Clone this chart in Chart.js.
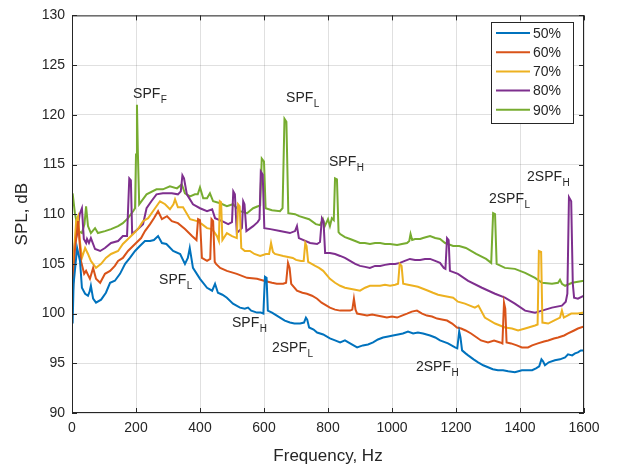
<!DOCTYPE html>
<html>
<head>
<meta charset="utf-8">
<script src="https://cdn.jsdelivr.net/npm/chart.js@4/dist/chart.umd.min.js"></script>
<style>
  html, body { margin: 0; padding: 0; background: #fff; }
  #wrap { width: 618px; height: 470px; }
</style>
</head>
<body>
<div id="wrap"><canvas id="splChart" width="618" height="470"></canvas></div>
<script>
// [frequency Hz, SPL dB]
const s50 = [[2,99.0],[5,103],[9,104.3],[16,106.6],[25,105.3],[31,102.6],[41,102],[50,101.8],[55,102.2],[59,102.8],[66,101.5],[75,101.1],[91,101.4],[106,102.1],[119,103.1],[134,103.3],[150,104],[166,105],[181,105.6],[197,106.3],[212,106.8],[228,107.3],[244,107.3],[256,107.4],[269,107.8],[281,107.1],[295,107.0],[316,106.3],[338,106.0],[353,105.0],[362,105.6],[368,106.6],[373,105.6],[378,104.6],[400,103.5],[422,102.6],[438,102.3],[447,103],[456,102.1],[470,101.9],[484,101.6],[503,101],[525,100.6],[540,100.5],[550,100.6],[560,100.3],[578,100.1],[590,100.1],[598,100.0],[603,103.7],[608,103.6],[612,100.3],[625,100.1],[640,99.8],[650,99.6],[665,99.3],[681,99.1],[695,99.0],[713,99.0],[725,99.1],[731,99.6],[735,99.4],[741,98.6],[755,98.4],[766,98.1],[785,97.9],[806,97.5],[822,97.3],[838,97.1],[853,97.3],[869,97.0],[891,96.6],[909,96.8],[925,96.9],[941,97.1],[956,97.4],[972,97.6],[988,97.7],[1003,97.8],[1019,97.9],[1034,98.0],[1050,98.2],[1066,98.0],[1081,98.1],[1097,98.0],[1119,97.8],[1135,97.6],[1150,97.3],[1175,97.0],[1197,96.6],[1204,96.5],[1210,98.2],[1214,97.6],[1219,96.3],[1230,96.0],[1238,95.8],[1255,95.4],[1269,95.1],[1285,94.8],[1300,94.6],[1315,94.4],[1331,94.3],[1347,94.3],[1363,94.2],[1384,94.1],[1395,94.2],[1406,94.3],[1420,94.3],[1438,94.3],[1450,94.5],[1460,94.7],[1467,95.4],[1472,95.2],[1478,94.8],[1490,95.1],[1509,95.3],[1525,95.4],[1541,95.6],[1550,95.9],[1563,95.8],[1572,96.0],[1581,96.1],[1590,96.3],[1600,96.3]];

const s60 = [[2,101.5],[9,106.3],[19,109.3],[28,105.3],[38,104],[44,104.3],[56,103.5],[66,104.6],[75,103.5],[88,103.1],[103,104],[119,104.3],[134,104.8],[144,105.3],[159,105.6],[175,106.3],[197,107],[216,107.6],[228,108.3],[244,109],[256,109.6],[269,110.3],[281,109.5],[297,109.8],[312,109.3],[331,109.1],[353,108.5],[375,107.8],[389,107.4],[394,109.5],[400,109.4],[406,105.6],[422,105.3],[432,105.5],[436,109.5],[441,109.3],[446,105.2],[450,105],[463,104.6],[484,104.3],[515,104],[547,103.6],[578,103.5],[600,103.3],[625,103.1],[640,103.0],[660,103.0],[669,103.1],[675,105.1],[680,104.6],[685,103.0],[703,102.3],[720,102.1],[734,102.0],[750,101.8],[766,101.5],[780,101.1],[806,100.6],[822,100.4],[838,100.3],[856,100.3],[869,100.3],[876,100.4],[881,101.5],[886,100.4],[891,100.0],[906,99.9],[922,99.8],[938,99.9],[953,99.8],[969,99.7],[984,99.6],[1000,99.7],[1016,99.6],[1031,99.8],[1047,100.0],[1062,100.2],[1078,100.3],[1094,100.0],[1109,99.8],[1125,99.7],[1141,99.5],[1156,99.4],[1172,99.3],[1188,99.0],[1203,98.6],[1216,98.5],[1230,98.3],[1247,98.0],[1265,97.6],[1278,97.3],[1300,97.1],[1319,97.3],[1338,97.1],[1345,97.0],[1350,101.1],[1354,100.5],[1358,97.1],[1372,97.0],[1390,96.8],[1406,96.6],[1425,96.6],[1438,96.8],[1456,97.0],[1475,97.2],[1488,97.3],[1506,97.5],[1519,97.6],[1538,97.8],[1550,98.0],[1569,98.3],[1581,98.5],[1600,98.7]];

const s70 = [[2,103.5],[8,107],[13,109.3],[19,109.8],[24,107.5],[31,105.6],[41,106.6],[50,106],[59,105.3],[75,104.6],[91,105],[106,105.6],[122,106],[144,106.3],[159,107],[175,107.5],[191,108],[206,108.5],[222,109.3],[238,109.6],[253,110.3],[275,111.3],[291,111.0],[306,110.5],[317,111.0],[322,111.5],[331,110.7],[347,110.7],[369,109.5],[391,109.3],[406,109],[422,108.6],[438,108.5],[453,107.8],[459,107.3],[462,111.3],[466,111.2],[470,107.4],[484,108.1],[500,107.8],[515,107.6],[519,111],[524,110.8],[529,106.6],[540,106.3],[556,106.3],[570,106],[588,105.8],[606,106.0],[616,106],[622,107.1],[628,106.2],[634,106],[660,105.8],[690,105.6],[700,105.4],[716,105.3],[724,105.3],[729,107.1],[733,106.8],[738,105.2],[760,104.8],[772,104.6],[785,104.3],[806,103.5],[822,103.1],[838,102.8],[853,102.6],[869,102.5],[885,102.4],[900,102.3],[916,102.6],[931,102.8],[947,102.8],[963,102.8],[978,102.9],[994,102.8],[1010,102.9],[1019,103.0],[1024,105.0],[1030,104.8],[1035,103.0],[1050,102.9],[1066,102.8],[1081,102.7],[1097,102.5],[1113,102.3],[1128,102.1],[1144,101.9],[1159,101.8],[1175,101.7],[1191,101.6],[1206,101.2],[1228,101.0],[1259,100.6],[1270,100.8],[1290,99.6],[1322,99.0],[1353,98.6],[1375,98.5],[1394,98.3],[1416,98.5],[1447,98.8],[1455,98.9],[1459,106.3],[1466,106.2],[1470,99.1],[1488,99.0],[1506,99.3],[1525,99.6],[1531,100.3],[1537,99.6],[1560,100.0],[1581,100.0],[1600,100.1]];

const s80 = [[2,105],[9,107.1],[16,108],[24,110],[31,110.6],[37,107.5],[44,107.1],[47,107.5],[53,107.1],[59,107.6],[72,106.5],[88,106.3],[103,106.6],[122,107.1],[144,107.3],[159,107.8],[172,107.8],[179,113.6],[184,113.4],[188,108],[206,108.5],[222,109],[233,110.6],[248,111.3],[264,112],[284,112.1],[312,112.1],[331,112],[340,112.3],[345,113.9],[350,113.6],[359,112],[378,111],[400,110.6],[422,110.3],[438,110.5],[447,109.6],[469,109.3],[488,109],[500,109.2],[504,112.3],[509,112],[515,108.1],[531,108.6],[535,111.3],[539,111],[545,108.3],[566,108.8],[580,109.2],[586,109.5],[590,114.3],[596,114],[601,108.6],[620,108.5],[650,108.3],[681,108.1],[697,108.3],[703,108.8],[709,107.6],[744,107.1],[766,107],[775,107.2],[781,109.6],[786,109.3],[791,106.1],[806,106.1],[822,106],[838,105.8],[853,105.6],[869,105.3],[885,105.0],[900,104.8],[916,104.7],[931,104.6],[947,104.8],[963,104.8],[978,104.9],[994,105],[1010,105.0],[1025,105.1],[1040,105.3],[1056,105.5],[1072,105.4],[1088,105.4],[1103,105.5],[1119,105.5],[1135,105.3],[1150,105.1],[1162,104.6],[1167,104.5],[1172,107.6],[1177,107.4],[1181,104.3],[1206,104],[1238,103.3],[1281,102.6],[1322,102],[1353,101.6],[1384,101],[1416,100.3],[1447,100.1],[1469,100.3],[1500,100.6],[1531,100.8],[1543,101.2],[1548,102],[1553,111.7],[1560,111.3],[1565,103],[1569,101.6],[1581,101.5],[1600,101.8]];

const s90 = [[2,112.1],[9,110.1],[20,108.3],[31,108.1],[39,109],[44,110.8],[50,108.8],[59,108.1],[72,108.6],[81,108.1],[103,108.3],[122,108.5],[144,108.8],[159,109.1],[175,109.6],[191,110.3],[197,110.6],[200,116],[203,121],[206,116],[210,111],[233,112],[264,112.5],[284,112.5],[306,112.8],[328,112.6],[343,113],[353,112.1],[369,111.8],[384,112],[393,112],[400,112.7],[410,111.6],[422,111.6],[431,112.1],[441,111.3],[463,111.1],[484,110.8],[503,111],[525,110.3],[547,110.1],[566,110.6],[581,110.8],[588,110.9],[593,115.6],[600,115.3],[605,110.6],[625,110.4],[650,110.3],[658,110.6],[664,119.6],[670,119.3],[676,110.1],[697,110],[710,109.8],[741,109.5],[762,109],[775,108.9],[784,109.5],[790,108.8],[800,109.5],[806,108.8],[812,109.6],[818,109.4],[822,113.6],[828,113.5],[833,108.2],[838,108],[853,107.7],[869,107.5],[885,107.3],[900,107.1],[915,107.1],[931,107.0],[947,107.1],[963,107.1],[978,107.0],[994,107.0],[1016,106.9],[1031,107.0],[1047,107.1],[1054,107.3],[1058,108.0],[1063,107.4],[1072,107.5],[1088,107.5],[1097,107.6],[1108,107.7],[1119,107.8],[1135,107.6],[1150,107.5],[1166,107.1],[1191,106.8],[1210,106.8],[1231,106.6],[1263,106.0],[1294,105.5],[1310,105.1],[1316,110.1],[1322,110],[1327,105],[1353,104.6],[1384,104.5],[1416,104.1],[1447,103.6],[1469,103.1],[1500,103],[1519,103.1],[1525,103.4],[1531,103],[1541,102.8],[1563,103.1],[1581,103.2],[1600,103.3]];

const seriesLabels = ['50%', '60%', '70%', '80%', '90%'];
const seriesData = [s50, s60, s70, s80, s90];
const colors = ['#0072BD', '#D95319', '#EDB120', '#7E2F8E', '#77AC30'];

const xTicks = [0, 200, 400, 600, 800, 1000, 1200, 1400, 1600];
const yTicks = [90, 95, 100, 105, 110, 115, 120, 125, 130];

// peak labels: [text, subscript, freq, dB] (left edge, vertical middle)
const peakNotes = [
  ['SPF', 'F', 191, 122.1],
  ['SPF', 'L', 669, 121.7],
  ['SPF', 'H', 803, 115.2],
  ['2SPF', 'L', 1303, 111.5],
  ['2SPF', 'H', 1422, 113.7],
  ['SPF', 'L', 272, 103.4],
  ['SPF', 'H', 500, 99.0],
  ['2SPF', 'L', 625, 96.5],
  ['2SPF', 'H', 1075, 94.6]
];

const axisColor = '#262626';
const fontFam = '"Liberation Sans", Arial, Helvetica, sans-serif';

const matlabLook = {
  id: 'matlabLook',
  afterDatasetsDraw(chart) {
    const ctx = chart.ctx;
    const a = chart.chartArea;
    const xs = chart.scales.x, ys = chart.scales.y;
    ctx.save();

    // box + inward ticks
    ctx.strokeStyle = axisColor;
    ctx.lineWidth = 1;
    ctx.strokeRect(a.left + 0.5, a.top + 0.5, a.right - a.left - 1, a.bottom - a.top - 1);
    const tl = 5;
    ctx.beginPath();
    xTicks.forEach(v => {
      const px = Math.round(xs.getPixelForValue(v)) + 0.5;
      ctx.moveTo(px, a.bottom); ctx.lineTo(px, a.bottom - tl);
      ctx.moveTo(px, a.top); ctx.lineTo(px, a.top + tl);
    });
    yTicks.forEach(v => {
      const py = Math.round(ys.getPixelForValue(v)) + 0.5;
      ctx.moveTo(a.left, py); ctx.lineTo(a.left + tl, py);
      ctx.moveTo(a.right, py); ctx.lineTo(a.right - tl, py);
    });
    ctx.stroke();

    // peak annotations
    ctx.fillStyle = axisColor;
    ctx.textBaseline = 'middle';
    ctx.textAlign = 'left';
    peakNotes.forEach(n => {
      const px = xs.getPixelForValue(n[2]);
      const py = ys.getPixelForValue(n[3]);
      ctx.font = '14px ' + fontFam;
      ctx.fillText(n[0], px, py);
      const w = ctx.measureText(n[0]).width;
      ctx.font = '10px ' + fontFam;
      ctx.fillText(n[1], px + w + 0.5, py + 6);
    });

    // legend box, top right inside the axes
    const lx = 491, ly = 22, lw = 82, lh = 101;
    ctx.fillStyle = '#fff';
    ctx.fillRect(lx, ly, lw, lh);
    ctx.strokeStyle = axisColor;
    ctx.strokeRect(lx + 0.5, ly + 0.5, lw, lh);
    ctx.font = '14px ' + fontFam;
    chart.data.datasets.forEach((ds, i) => {
      const ry = ly + 11 + i * 19.2;
      ctx.strokeStyle = ds.borderColor;
      ctx.lineWidth = 2;
      ctx.beginPath();
      ctx.moveTo(lx + 5, ry); ctx.lineTo(lx + 39, ry);
      ctx.stroke();
      ctx.fillStyle = axisColor;
      ctx.fillText(ds.label, lx + 42, ry + 1);
    });
    ctx.restore();
  }
};

const ctx = document.getElementById('splChart').getContext('2d');
new Chart(ctx, {
  type: 'line',
  data: {
    datasets: seriesData.map((pts, i) => ({
      label: seriesLabels[i],
      data: pts.map(p => ({ x: p[0], y: p[1] })),
      borderColor: colors[i],
      backgroundColor: colors[i],
      borderWidth: 2,
      pointRadius: 0,
      tension: 0,
      fill: false
    }))
  },
  options: {
    responsive: false,
    animation: false,
    layout: { padding: { left: 0, top: 13, right: 34, bottom: 0 } },
    plugins: {
      legend: { display: false },
      tooltip: { enabled: false }
    },
    scales: {
      x: {
        type: 'linear',
        min: 0,
        max: 1600,
        afterBuildTicks: s => { s.ticks = xTicks.map(v => ({ value: v })); },
        afterFit: s => { s.height = 57; },
        grid: { color: 'rgba(38,38,38,0.14)', drawTicks: false },
        border: { display: false },
        ticks: { color: axisColor, font: { size: 14, family: fontFam }, padding: 7, maxRotation: 0, callback: v => String(v) },
        title: { display: true, text: 'Frequency, Hz', color: axisColor, font: { size: 17, family: fontFam }, padding: { top: 0, bottom: 3 } }
      },
      y: {
        min: 90,
        max: 130,
        afterBuildTicks: s => { s.ticks = yTicks.map(v => ({ value: v })); },
        afterFit: s => { s.width = 72; },
        grid: { color: 'rgba(38,38,38,0.14)', drawTicks: false },
        border: { display: false },
        ticks: { color: axisColor, font: { size: 14, family: fontFam }, padding: 7, callback: v => String(v) },
        title: { display: true, text: 'SPL, dB', color: axisColor, font: { size: 17, family: fontFam }, padding: { top: 12, bottom: 0 } }
      }
    }
  },
  plugins: [matlabLook]
});
</script>
</body>
</html>
